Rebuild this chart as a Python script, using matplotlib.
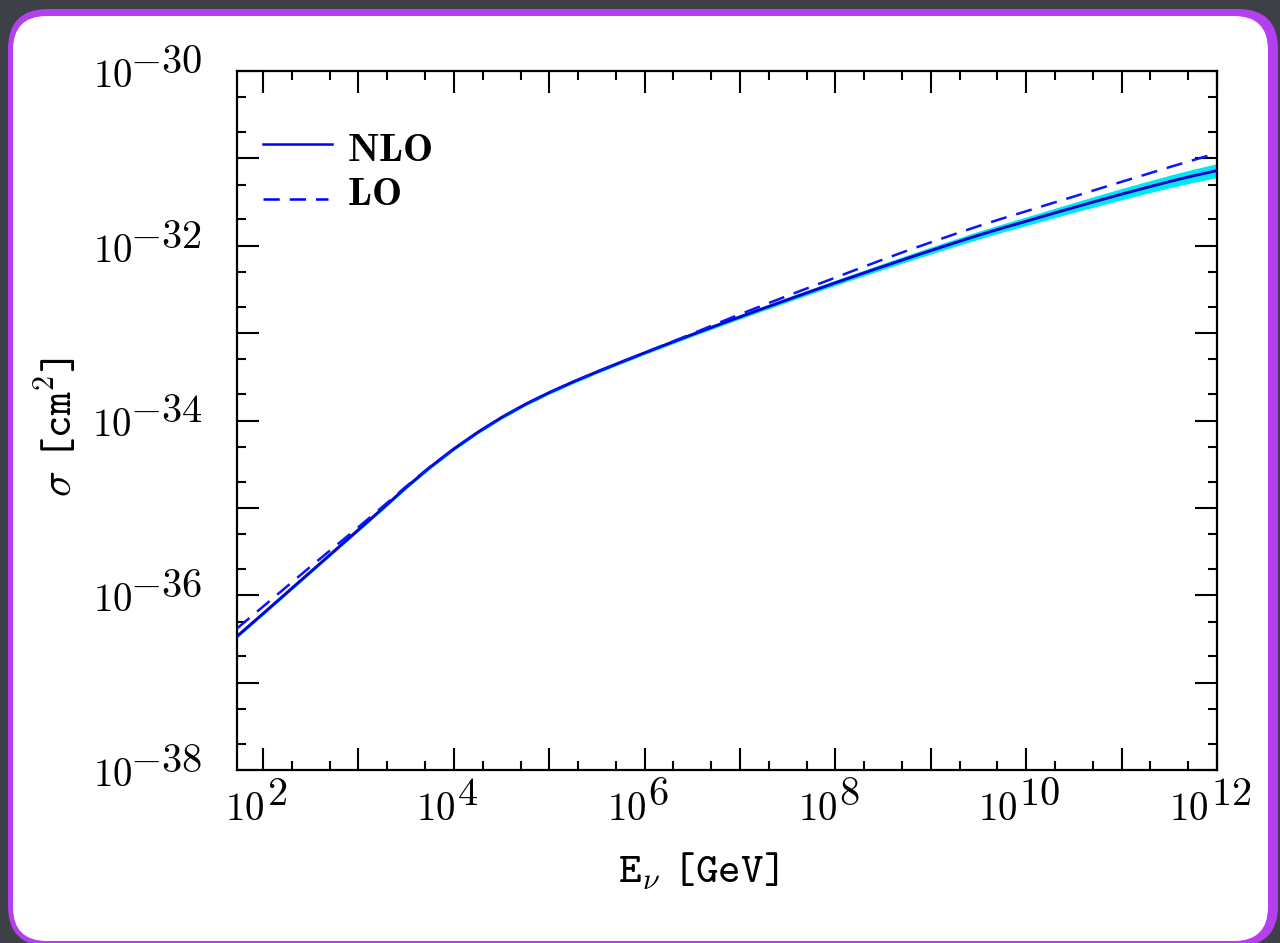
import matplotlib
matplotlib.use('Agg')
import matplotlib.pyplot as plt
import numpy as np
from matplotlib.patches import FancyBboxPatch
from matplotlib.transforms import IdentityTransform
from matplotlib.ticker import FixedLocator, LogLocator, NullFormatter

plt.rcParams['mathtext.fontset'] = 'cm'

# ---------------- data (log10 values) ----------------
log10_E = [1.727, 2.0, 2.25, 2.5, 2.75, 3.0, 3.25, 3.5, 3.75, 4.0, 4.25, 4.5,
           4.75, 5.0, 5.25, 5.5, 5.75, 6.0, 6.25, 6.5, 6.75, 7.0, 7.25, 7.5,
           7.75, 8.0, 8.25, 8.5, 8.75, 9.0, 9.25, 9.5, 9.75, 10.0, 10.25,
           10.5, 10.75, 11.0, 11.25, 11.5, 11.75, 12.0]
log10_sigma_nlo = [-36.470, -36.210, -35.970, -35.730, -35.490, -35.250,
                   -35.010, -34.765, -34.535, -34.325, -34.135, -33.965,
                   -33.814, -33.680, -33.558, -33.443, -33.333, -33.225,
                   -33.120, -33.016, -32.914, -32.814, -32.715, -32.617,
                   -32.520, -32.424, -32.330, -32.237, -32.145, -32.055,
                   -31.967, -31.880, -31.798, -31.720, -31.640, -31.562,
                   -31.485, -31.410, -31.337, -31.266, -31.200, -31.140]
log10_sigma_lo = [-36.380, -36.130, -35.900, -35.670, -35.445, -35.220,
                  -34.990, -34.755, -34.530, -34.325, -34.135, -33.965,
                  -33.814, -33.680, -33.558, -33.443, -33.333, -33.225,
                  -33.115, -33.006, -32.894, -32.784, -32.678, -32.572,
                  -32.468, -32.364, -32.260, -32.157, -32.057, -31.961,
                  -31.867, -31.775, -31.688, -31.605, -31.520, -31.437,
                  -31.352, -31.268, -31.185, -31.101, -31.020, -30.940]
band_halfwidth = [0.02, 0.02, 0.02, 0.02, 0.02, 0.02, 0.02, 0.02, 0.02,
                  0.02, 0.02, 0.02, 0.02, 0.02, 0.02, 0.02, 0.02, 0.02,
                  0.021, 0.022, 0.024, 0.025, 0.026, 0.027, 0.029, 0.030,
                  0.032, 0.035, 0.037, 0.040, 0.042, 0.045, 0.047, 0.050,
                  0.053, 0.057, 0.061, 0.065, 0.068, 0.072, 0.076, 0.080]

x_label_exps = [2, 4, 6, 8, 10, 12]
y_label_exps = [-30, -32, -34, -36, -38]
legend_labels = ['NLO', 'LO']
xlabel_text = r'E$_{\nu}\ $[GeV]'
ylabel_text = r'$\sigma\ $[cm$^{\mathtt{2}}$]'

# ---------------- figure & decorative frame ----------------
W, H = 1280, 943
fig = plt.figure(figsize=(W / 100, H / 100), dpi=100)
fig.patch.set_facecolor('#3d4147')


def frame(x0, y0, x1, y1, r, fc, z):
    p = FancyBboxPatch((x0 + r, H - y1 + r), (x1 - x0) - 2 * r,
                       (y1 - y0) - 2 * r,
                       boxstyle=f"round,pad={r},rounding_size={r}",
                       transform=IdentityTransform(), facecolor=fc,
                       edgecolor='none', zorder=z)
    fig.add_artist(p)


frame(8, 9, 1278, 946, 40, '#b43ff0', -10)
frame(13, 16, 1268, 941, 34, 'white', -9)

# ---------------- axes ----------------
L, R, T, B = 237, 1217, 71, 770
ax = fig.add_axes([L / W, (H - B) / H, (R - L) / W, (B - T) / H])
ax.set_facecolor('white')
ax.set_xscale('log')
ax.set_yscale('log')

E = 10.0 ** np.array(log10_E)
nlo = 10.0 ** np.array(log10_sigma_nlo)
lo = 10.0 ** np.array(log10_sigma_lo)
bw = np.array(band_halfwidth)
band_lo = 10.0 ** (np.array(log10_sigma_nlo) - bw)
band_hi = 10.0 ** (np.array(log10_sigma_nlo) + bw)

ax.fill_between(E, band_lo, band_hi, color='#00e8f0', lw=0, zorder=2)
ax.plot(E, nlo, color='#1200cc', lw=2.1, zorder=3, solid_capstyle='butt')
ax.plot(E, lo, color='#0a14ff', lw=1.8, ls=(0, (6.5, 4)), zorder=4)

ax.set_xlim(10 ** 1.727, 1e12)
ax.set_ylim(1e-38, 1e-30)

ax.xaxis.set_major_locator(FixedLocator([10.0 ** k for k in range(2, 13)]))
ax.yaxis.set_major_locator(FixedLocator([10.0 ** k for k in range(-38, -29)]))
ax.xaxis.set_minor_locator(LogLocator(base=10, subs=(2, 5), numticks=100))
ax.yaxis.set_minor_locator(LogLocator(base=10, subs=(2, 5), numticks=100))
ax.xaxis.set_minor_formatter(NullFormatter())
ax.yaxis.set_minor_formatter(NullFormatter())
ax.tick_params(which='both', direction='in', top=True, right=True,
               labelbottom=False, labelleft=False, width=1.5, color='black')
ax.tick_params(which='major', length=15.5)
ax.tick_params(which='minor', length=6.2)
for s in ax.spines.values():
    s.set_linewidth(1.6)

renderer = fig.canvas.get_renderer()
FS_BASE, FS_EXP = 28, 29

# x tick labels: "10" with full-size raised exponent, centred ~7 px left of tick
for k in x_label_exps:
    b = ax.annotate(r'$10$', xy=(10.0 ** k, 0), xycoords=('data', 'axes fraction'),
                    xytext=(0, 0), textcoords='offset pixels', ha='left',
                    va='baseline', fontsize=FS_BASE, annotation_clip=False)
    e = ax.annotate(rf'${k}$', xy=(10.0 ** k, 0), xycoords=('data', 'axes fraction'),
                    xytext=(0, 0), textcoords='offset pixels', ha='left',
                    va='baseline', fontsize=FS_EXP, annotation_clip=False)
    wb = b.get_window_extent(renderer).width
    we = e.get_window_extent(renderer).width
    gap = 2
    left = -7 - (wb + gap + we) / 2
    b.set_position((left, -50))
    e.set_position((left + wb + gap, -35))

# y tick labels: right aligned 35 px left of the spine
for k in y_label_exps:
    e = ax.annotate(rf'${k}$', xy=(0, 10.0 ** k), xycoords=('axes fraction', 'data'),
                    xytext=(-35, -2), textcoords='offset pixels', ha='right',
                    va='baseline', fontsize=FS_EXP, annotation_clip=False)
    we = e.get_window_extent(renderer).width
    ax.annotate(r'$10$', xy=(0, 10.0 ** k), xycoords=('axes fraction', 'data'),
                xytext=(-35 - we + 2, -16), textcoords='offset pixels', ha='right',
                va='baseline', fontsize=FS_BASE, annotation_clip=False)

# axis labels (typewriter)
fig.text(698 / W, 1 - 872 / H, xlabel_text, ha='center', va='center',
         fontsize=31, family='cmtt10')
fig.text(58 / W, 1 - 427 / H, ylabel_text, ha='center', va='center',
         fontsize=31, rotation=90, family='cmtt10')


# legend (drawn manually)
def fx(px):
    return (px - L) / (R - L)


def fy(py):
    return (B - py) / (B - T)


ax.plot([fx(263), fx(332)], [fy(144), fy(144)], transform=ax.transAxes,
        color='#0000ff', lw=1.8, clip_on=False)
ax.plot([fx(263), fx(328)], [fy(199), fy(199)], transform=ax.transAxes,
        color='#0000ff', lw=1.8, ls=(0, (6.5, 4)), clip_on=False)
ax.text(fx(347), fy(161), r'$\mathbf{%s}$' % legend_labels[0], transform=ax.transAxes,
        ha='left', va='baseline', fontsize=29)
ax.text(fx(347), fy(205), r'$\mathbf{%s}$' % legend_labels[1], transform=ax.transAxes,
        ha='left', va='baseline', fontsize=29)

fig.savefig('out.png', dpi=100, facecolor=fig.get_facecolor())
